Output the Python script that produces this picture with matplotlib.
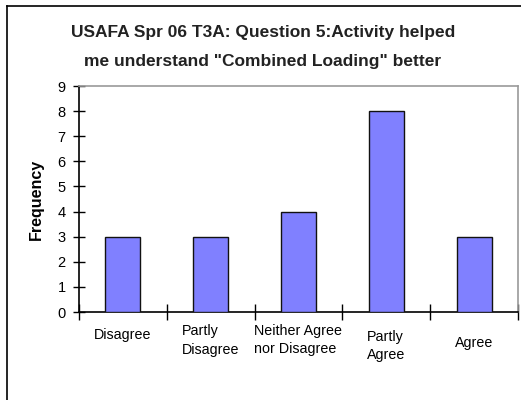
import matplotlib
matplotlib.use("Agg")
import matplotlib.pyplot as plt
from matplotlib.lines import Line2D
import matplotlib.transforms as mtransforms
import numpy as np

categories = ["Disagree", "Partly\nDisagree", "Neither Agree\nnor Disagree", "Partly\nAgree", "Agree"]
frequency = [3, 3, 4, 8, 3]
yticks = list(range(0, 10))

plt.rcParams['font.family'] = ['Liberation Sans', 'DejaVu Sans']

fig = plt.figure(figsize=(5.21, 4.00), dpi=100)
W, H = 521, 400
ax = fig.add_axes([79 / W, 1 - 312 / H, (518 - 79) / W, (312 - 86) / H])

x = np.arange(len(categories))
ax.bar(x, frequency, width=0.4, color="#8080FF", edgecolor="#111111", linewidth=1.0, zorder=3)

ax.set_xlim(-0.5, len(categories) - 0.5)
ax.set_ylim(0, 9)
ax.set_yticks(yticks)
ax.set_yticklabels([str(v) for v in yticks], fontsize=10.5)
ax.tick_params(axis='y', direction='inout', length=9, width=1, pad=5)

ax.set_xticks(x)
ax.set_xticklabels(categories, fontsize=10.3, multialignment='left', linespacing=1.45)
ax.tick_params(axis='x', which='major', length=0, pad=9)
ax.set_xticks(np.arange(len(categories) + 1) - 0.5, minor=True)
ax.tick_params(axis='x', which='minor', direction='inout', length=12, width=1)

# small per-label vertical offsets (pixels) as in the reference
offsets_px = [3, 0, -1, 5, 11]
for lbl, off in zip(ax.get_xticklabels(), offsets_px):
    lbl.set_transform(lbl.get_transform() + mtransforms.ScaledTranslation(0, -off / 100, fig.dpi_scale_trans))

for s in ['left', 'bottom']:
    ax.spines[s].set_color('black')
    ax.spines[s].set_linewidth(1.2)
for s in ['top', 'right']:
    ax.spines[s].set_color('#9a9a9a')
    ax.spines[s].set_linewidth(1.2)

ax.set_ylabel("Frequency", fontsize=11.5, fontweight='bold', labelpad=10)

fig.text(263 / W, 1 - 47 / H, 'USAFA Spr 06 T3A: Question 5:Activity helped\nme understand "Combined Loading" better',
         ha='center', va='center', fontsize=12.5, fontweight='bold', color='#222222', linespacing=2.15)

# outer chart border
fig.add_artist(Line2D([7 / W, 7 / W], [0, 1 - 6 / H], color='black', linewidth=1.2, transform=fig.transFigure))
fig.add_artist(Line2D([7 / W, 1], [1 - 6 / H, 1 - 6 / H], color='black', linewidth=1.2, transform=fig.transFigure))

fig.savefig("out.png", dpi=100)
